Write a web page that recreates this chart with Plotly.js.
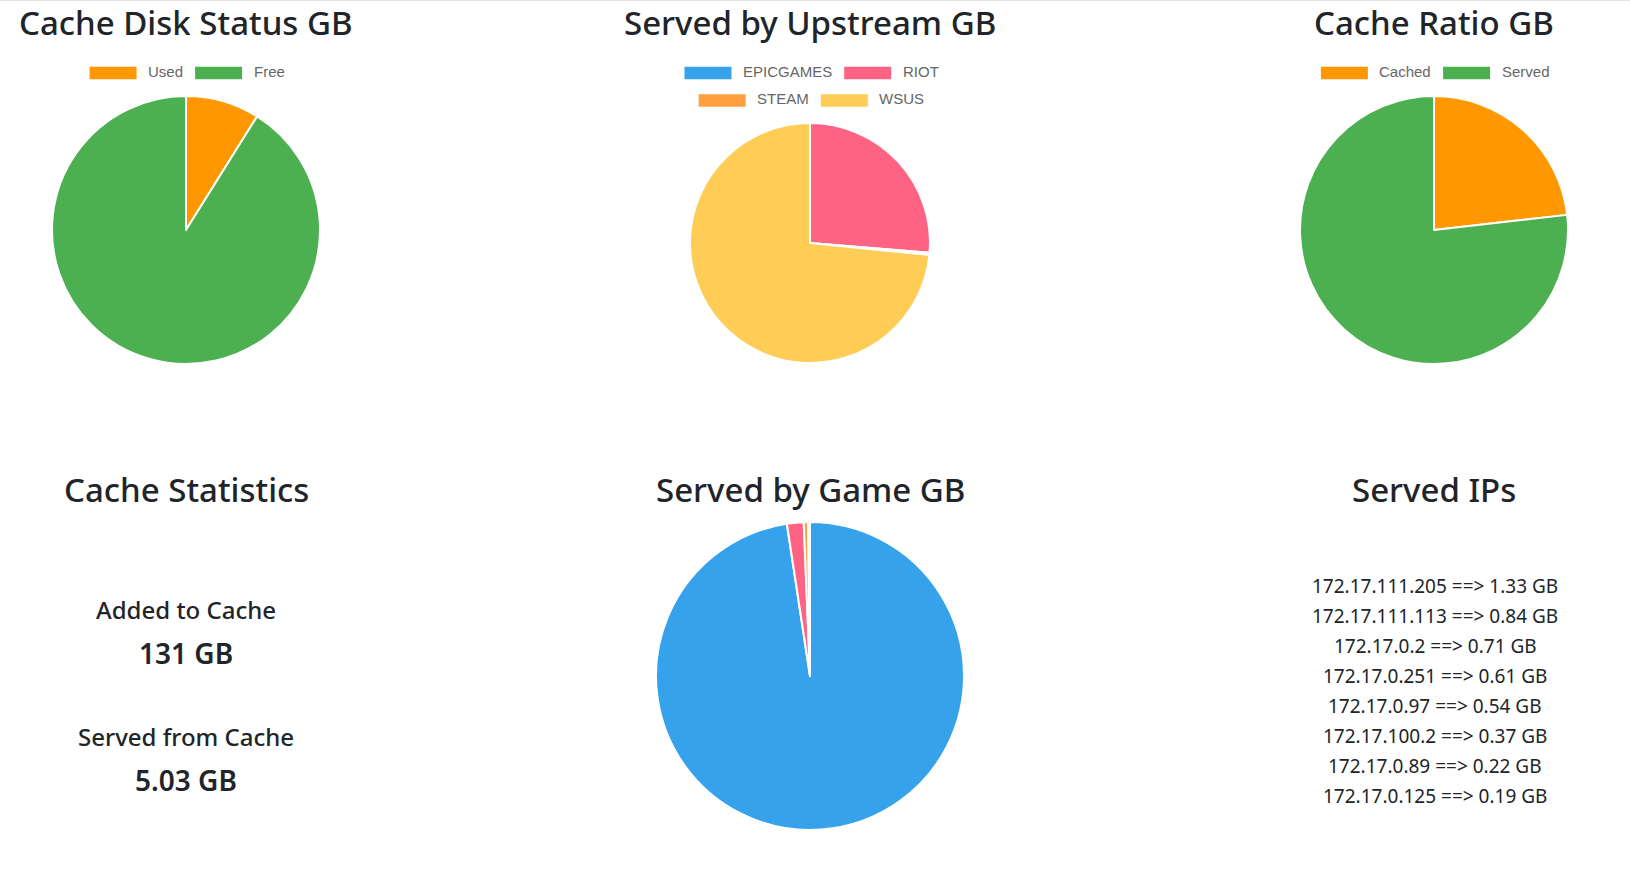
<!DOCTYPE html>
<html>
<head>
<meta charset="utf-8">
<script src="https://cdn.plot.ly/plotly-3.0.1.min.js"></script>
<style>
html,body{margin:0;padding:0;background:#fff;overflow:hidden;}
#chart{width:1630px;height:872px;}
</style>
</head>
<body>
<div id="chart"></div>
<script>
// ---------- data ----------
const diskLabels = ['Used', 'Free'];
const diskValues = [8.9, 91.1];
const diskColors = ['#FF9800', '#4CAF50'];

const upstreamLabels = ['EPICGAMES', 'RIOT', 'STEAM', 'WSUS'];
const upstreamValues = [0, 26.3, 0.3, 73.4];
const upstreamColors = ['#36A2EB', '#FF6384', '#FF9F40', '#FFCD56'];

const ratioLabels = ['Cached', 'Served'];
const ratioValues = [23.2, 76.8];
const ratioColors = ['#FF9800', '#4CAF50'];

const gameLabels = ['Game 1', 'Game 2', 'Game 3', 'Game 4'];
const gameValues = [97.6, 1.75, 0.45, 0.2];
const gameColors = ['#36A2EB', '#FF6384', '#FF9F40', '#FFCD56'];

const statLabels = ['Added to Cache', 'Served from Cache'];
const statValues = ['131 GB', '5.03 GB'];

const ipAddresses = ['172.17.111.205', '172.17.111.113', '172.17.0.2', '172.17.0.251',
                     '172.17.0.97', '172.17.100.2', '172.17.0.89', '172.17.0.125'];
const ipServedGB = [1.33, 0.84, 0.71, 0.61, 0.54, 0.37, 0.22, 0.19];

// ---------- layout helpers ----------
const W = 1630, H = 872;
const px = x => x / W;
const py = y => 1 - y / H;
const TITLE_FONT = 'Noto Sans, Open Sans, sans-serif';
const LEG_FONT = 'Liberation Sans, Arial, sans-serif';
const DARK = '#212529';

const ctx = document.createElement('canvas').getContext('2d');
function textWidth(t, size, family) {
  ctx.font = size + 'px ' + family;
  return ctx.measureText(t).width;
}

const annotations = [];
const shapes = [];

function addText(text, x, y, size, weight, color, family, xanchor) {
  annotations.push({
    text: text, x: px(x), y: py(y), xref: 'paper', yref: 'paper',
    xanchor: xanchor || 'center', yanchor: 'middle', showarrow: false,
    font: {family: family || TITLE_FONT, size: size, color: color || DARK, weight: weight || 500}
  });
}

// chart.js-like legend rows
function addLegendRow(labels, colors, cx, cy) {
  const BOXW = 47, BOXH = 12.4, GAP = 9.5, SEP = 14, FS = 15;
  const widths = labels.map(l => textWidth(l, FS, 'Liberation Sans'));
  const total = widths.reduce((a, w) => a + BOXW + GAP + w, 0) + SEP * (labels.length - 1);
  let x = cx - total / 2;
  labels.forEach((l, i) => {
    shapes.push({type: 'rect', xref: 'paper', yref: 'paper',
      x0: px(x), x1: px(x + BOXW), y0: py(cy - BOXH / 2), y1: py(cy + BOXH / 2),
      fillcolor: colors[i], line: {width: 0}});
    addText(l, x + BOXW + GAP, cy - 1.8, FS, 400, '#666', LEG_FONT, 'left');
    x += BOXW + GAP + widths[i] + SEP;
  });
}

function pieTrace(labels, values, colors, cx, cy, r) {
  return {
    type: 'pie', labels: labels, values: values, sort: false,
    direction: 'clockwise', rotation: 0,
    marker: {colors: colors, line: {color: '#ffffff', width: 2}},
    textinfo: 'none', hoverinfo: 'label+value', showlegend: false,
    domain: {x: [px(cx - r), px(cx + r)], y: [py(cy + r), py(cy - r)]}
  };
}

// ---------- titles ----------
const TS = 33;
addText('Cache Disk Status GB', 186, 22.5, TS);
addText('Served by Upstream GB', 810, 22.5, TS);
addText('Cache Ratio GB', 1434, 22.5, TS);
addText('Cache Statistics', 186, 489, TS);
addText('Served by Game GB', 810, 489, TS);
addText('Served IPs', 1434, 489, TS);

// ---------- legends ----------
addLegendRow(diskLabels, diskColors, 186, 73);
addLegendRow(upstreamLabels.slice(0, 2), upstreamColors.slice(0, 2), 810.5, 73);
addLegendRow(upstreamLabels.slice(2, 4), upstreamColors.slice(2, 4), 810.5, 100.5);
addLegendRow(ratioLabels, ratioColors, 1434, 73);

// ---------- statistics ----------
statLabels.forEach((l, i) => {
  addText(l, 186, 609.5 + i * 127, 24, 500);
  addText(statValues[i], 186, 653 + i * 127, 28, 600);
});

// ---------- served IPs ----------
ipAddresses.forEach((ip, i) => {
  addText(ip + ' ==&gt; ' + ipServedGB[i].toFixed(2) + ' GB', 1435, 585.8 + i * 30, 19, 400);
});

// top border line
shapes.push({type: 'line', xref: 'paper', yref: 'paper', x0: 0, x1: 1, y0: py(0.5), y1: py(0.5),
  line: {color: '#e3e3e3', width: 1}});

const data = [
  pieTrace(diskLabels, diskValues, diskColors, 186, 230, 134),
  pieTrace(upstreamLabels, upstreamValues, upstreamColors, 810, 243, 120),
  pieTrace(ratioLabels, ratioValues, ratioColors, 1434, 230, 134),
  pieTrace(gameLabels, gameValues, gameColors, 810, 676, 154)
];

const layout = {
  width: W, height: H,
  margin: {l: 0, r: 0, t: 0, b: 0},
  paper_bgcolor: '#ffffff',
  plot_bgcolor: '#ffffff',
  showlegend: false,
  annotations: annotations,
  shapes: shapes
};

Plotly.newPlot('chart', data, layout, {displayModeBar: false, staticPlot: true});
</script>
</body>
</html>
